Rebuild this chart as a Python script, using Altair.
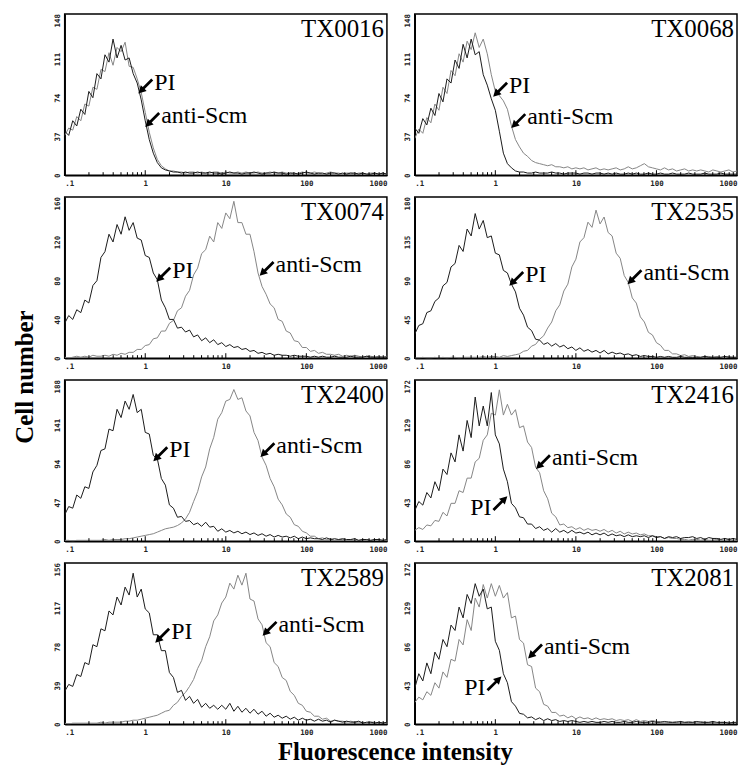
import altair as alt
import pandas as pd

# ---------------- data ----------------
PANELS = ["TX0016", "TX0068", "TX0074", "TX2535", "TX2400", "TX2416", "TX2589", "TX2081"]

Y_TICKS = {
    "TX0016": [0, 37, 74, 111, 148],
    "TX0068": [0, 37, 74, 111, 148],
    "TX0074": [0, 40, 80, 120, 160],
    "TX2535": [0, 45, 90, 135, 180],
    "TX2400": [0, 47, 94, 141, 188],
    "TX2416": [0, 43, 86, 129, 172],
    "TX2589": [0, 39, 78, 117, 156],
    "TX2081": [0, 43, 86, 129, 172],
}

X_TICKS = [0.1, 1, 10, 100, 1000]
X_LABELS = [".1", "1", "10", "100", "1000"]
MINOR_TICKS = [0.2, 0.3, 0.4, 0.5, 0.6, 0.7, 0.8, 0.9,
               2, 3, 4, 5, 6, 7, 8, 9,
               20, 30, 40, 50, 60, 70, 80, 90,
               200, 300, 400, 500, 600, 700, 800, 900]
MAJOR_TICKS = [1, 10, 100]

# histogram bins: log10 positions from -1 in steps of 0.05 decade
LOG_START = -1.0
LOG_STEP = 0.05

PI_TX0016 = [42,38,52,47,63,58,80,74,97,92, 115,108,130,112,124,110,112,97,88,72, 52,34,21,12,7,5,4,3,3,2, 3,2,2,3,2,2,3,2,2,1, 2,3,2,2,1,2,2,3,2,1, 2,2,3,2,2,1,2,2,1,2, 3,2,1,2,2,1,2,2,1,2, 1,2,2,1,2,1,1,2,1,2, 1]
SCM_TX0016 = [38,45,43,56,52,68,66,84,82,101, 99,117,105,122,118,127,104,103,92,79, 60,41,26,15,9,6,4,4,3,3, 2,3,3,2,3,2,2,3,3,2, 3,2,2,3,2,3,2,2,3,2, 2,3,2,2,3,2,2,1,2,3, 2,2,3,2,1,2,3,2,2,1, 2,2,1,2,2,1,2,2,1,2, 1]

PI_TX0068 = [45,40,54,48,64,57,78,70,92,88, 110,102,125,112,130,115,118,96,86,73, 62,42,21,11,7,4,3,3,2,2, 3,2,2,2,3,2,2,1,2,2, 2,1,2,2,1,2,2,1,2,1, 2,1,1,2,1,2,1,1,2,1, 1,2,1,1,2,1,1,1,2,1, 1,1,2,1,1,1,2,1,1,1, 1]
SCM_TX0068 = [35,44,40,55,50,68,62,84,78,100, 95,116,108,128,120,136,122,130,116,96, 80,76,71,63,47,34,27,21,18,14, 12,11,10,9,10,8,8,7,8,6, 7,6,7,5,6,7,5,6,5,6, 7,5,6,8,6,7,9,11,8,7, 6,5,7,5,6,4,5,6,4,5, 4,5,4,3,5,4,3,4,5,3, 4]

PI_TX0074 = [36,44,40,50,47,60,57,75,80,104, 110,128,120,138,128,146,132,140,124,122, 106,104,88,81,60,52,40,40,31,32, 27,29,22,24,18,21,16,19,14,16, 12,14,11,12,9,10,7,8,5,6, 4,5,3,4,3,3,2,3,2,2, 2,1,2,1,2,1,1,2,1,1, 1,2,1,1,1,2,1,1,1,1, 1]
SCM_TX0074 = [1,0,1,2,1,2,1,3,2,2, 3,2,4,3,5,4,6,6,9,9, 13,14,20,21,28,28,36,39,49,52, 64,70,86,93,108,112,126,120,140,134, 150,144,162,140,140,128,128,110,88,74, 66,56,52,40,38,28,26,18,17,11, 11,7,8,5,6,4,4,3,4,2, 3,2,3,2,1,2,2,1,2,1, 2]

PI_TX2535 = [28,38,40,53,55,66,70,84,88,106, 110,131,124,150,142,168,150,160,140,142, 122,120,102,99,86,77,58,50,36,32, 22,21,16,18,14,17,13,15,11,13, 9,12,8,10,7,9,6,9,5,7, 5,6,4,5,3,4,2,3,2,2, 1,2,1,2,1,1,2,1,1,1, 1,1,2,1,1,1,1,2,1,1, 1]
SCM_TX2535 = [0,0,1,0,0,1,0,1,0,1, 1,0,1,1,1,1,1,2,1,2, 2,1,3,2,3,4,5,8,9,14, 16,22,26,35,42,55,62,78,86,106, 115,135,140,158,152,172,156,164,146,142, 122,116,96,88,70,64,48,42,30,27, 18,15,9,9,5,5,3,4,2,3, 2,1,2,2,1,2,1,1,2,1, 1]

PI_TX2400 = [32,42,40,56,52,66,64,84,92,110, 112,136,134,160,150,170,160,178,156,160, 132,130,104,100,76,68,44,40,29,30, 24,25,20,22,18,23,17,18,12,15, 11,13,10,12,9,11,8,10,7,9, 6,8,5,7,5,6,4,6,3,5, 3,4,3,3,2,4,2,3,2,3, 2,2,3,1,2,2,1,2,2,1, 2]
SCM_TX2400 = [1,1,0,1,1,1,1,1,1,1, 2,1,2,2,2,3,3,4,5,6, 7,8,9,11,13,15,16,17,19,22, 27,35,48,60,78,90,112,126,148,156, 170,172,184,172,174,158,152,132,122,102, 92,76,66,51,44,33,29,20,18,12, 10,6,6,3,4,2,3,1,2,2, 1,2,1,1,2,1,1,2,1,1, 1]

PI_TX2416 = [34,44,40,54,48,66,56,80,74,98, 88,118,100,134,115,160,128,150,128,165, 118,108,80,66,42,37,27,26,19,19, 14,16,12,14,10,14,10,12,9,12, 9,10,8,10,7,9,7,9,6,8, 6,7,5,7,5,6,5,6,4,6, 4,5,3,5,4,5,3,4,4,5, 3,4,2,4,3,3,2,3,2,3, 2]
SCM_TX2416 = [12,15,13,18,17,23,22,32,28,42, 42,56,54,70,70,88,92,112,118,142, 140,168,140,152,140,146,126,128,110,104, 82,76,56,47,31,27,18,19,15,16, 13,15,12,14,12,13,11,13,10,12, 9,11,8,10,8,9,7,8,6,6, 5,5,3,4,3,3,2,2,1,2, 2,1,2,1,1,2,1,1,2,1, 1]

PI_TX2589 = [33,40,38,50,48,62,60,80,78,96, 94,114,110,128,120,138,130,152,128,136, 116,112,90,90,74,74,52,47,32,34, 24,28,21,25,17,21,16,19,15,19, 15,21,13,18,12,16,11,15,10,13, 8,11,7,9,6,8,5,7,4,6, 4,5,3,5,3,4,2,4,3,2, 3,2,2,3,1,2,2,1,2,1, 2]
SCM_TX2589 = [1,0,1,1,1,1,1,1,1,2, 1,2,2,2,2,3,3,4,4,5, 6,7,8,9,11,13,14,19,22,28, 32,38,45,56,64,78,88,104,110,122, 128,142,136,150,140,152,126,124,106,100, 82,78,62,58,47,44,33,29,21,19, 13,12,8,8,5,6,3,4,3,3, 2,3,2,2,2,1,2,2,1,2, 1]

PI_TX2081 = [40,56,48,68,56,80,72,94,86,110, 104,130,118,144,134,156,142,150,128,130, 92,82,56,46,25,20,12,11,7,8, 5,7,4,6,4,5,3,4,3,4, 3,2,3,2,3,2,2,3,2,3, 2,2,3,2,2,3,2,2,2,3, 2,2,3,2,2,2,3,2,2,2, 3,2,2,2,3,2,2,2,1,2, 2]
SCM_TX2081 = [24,30,27,36,32,46,40,58,52,72, 70,94,88,116,104,140,130,155,140,156, 142,154,140,146,118,120,94,90,66,64, 40,36,22,20,13,13,9,10,7,9, 6,8,6,7,5,7,5,6,5,6, 4,5,4,5,3,5,3,4,3,4, 3,3,2,3,2,3,2,2,3,2, 2,3,2,2,2,1,2,2,2,1, 2]

PI = {"TX0016": PI_TX0016, "TX0068": PI_TX0068, "TX0074": PI_TX0074, "TX2535": PI_TX2535,
      "TX2400": PI_TX2400, "TX2416": PI_TX2416, "TX2589": PI_TX2589, "TX2081": PI_TX2081}
SCM = {"TX0016": SCM_TX0016, "TX0068": SCM_TX0068, "TX0074": SCM_TX0074, "TX2535": SCM_TX2535,
       "TX2400": SCM_TX2400, "TX2416": SCM_TX2416, "TX2589": SCM_TX2589, "TX2081": SCM_TX2081}

# arrow annotations: arrow tip in data coordinates
ANN_PANEL = ["TX0016", "TX0016", "TX0068", "TX0068", "TX0074", "TX0074", "TX2535", "TX2535",
             "TX2400", "TX2400", "TX2416", "TX2416", "TX2589", "TX2589", "TX2081", "TX2081"]
ANN_TEXT = ["PI", "anti-Scm"] * 8
ANN_X = [0.82, 1.0, 0.94, 1.58, 1.37, 26.3, 1.49, 43.7, 1.26, 26.9, 1.41, 3.2, 1.33, 28.6, 1.19, 2.55]
ANN_Y = [78, 46, 75, 45, 79, 85, 84, 86, 97, 102, 50, 80, 82, 89, 53, 73]
ANN_DIR = ["dl", "dl", "dl", "dl", "dl", "dl", "dl", "dl", "dl", "dl", "ur", "dl", "dl", "dl", "ur", "dl"]

# ---------------- styling ----------------
W, H = 324, 162
PI_COLOR = "#1a1a1a"
SCM_COLOR = "#858585"
SERIF = "Liberation Serif"
ARROW_SIZE = 196
HALF = 7
PATH_DL = "M -1 1 L -0.64 -0.2 L -0.36 0.08 L 0.86 -1.14 L 1.14 -0.86 L -0.08 0.36 L 0.2 0.64 Z"
PATH_UR = "M 1 -1 L 0.64 0.2 L 0.36 -0.08 L -0.86 1.14 L -1.14 0.86 L 0.08 -0.36 L -0.2 -0.64 Z"

# label expression built from the tick label list
expr = "'" + X_LABELS[-1] + "'"
for t, lab in reversed(list(zip(X_TICKS[:-1], X_LABELS[:-1]))):
    expr = f"datum.value < {t * 3.1623} ? '{lab}' : ({expr})"

xscale = alt.Scale(type="log", domain=[X_TICKS[0], X_TICKS[-1]])


def series_df(vals):
    return pd.DataFrame({
        "x": [10 ** (LOG_START + LOG_STEP * i) for i in range(len(vals))],
        "count": vals,
    })


def panel(name):
    ticks = Y_TICKS[name]
    ymax = ticks[-1] * 1.04
    X = alt.X("x:Q", scale=xscale,
              axis=alt.Axis(values=X_TICKS, labelExpr=expr, ticks=False, grid=False, title=None,
                            labelFlush=True, labelPadding=4))
    Y = alt.Y("count:Q", scale=alt.Scale(domain=[0, ymax], nice=False),
              axis=alt.Axis(values=ticks, labelAngle=-90, ticks=False, grid=False, title=None,
                            labelPadding=3))

    scm = alt.Chart(series_df(SCM[name])).mark_line(
        interpolate="linear", strokeWidth=1, color=SCM_COLOR, clip=True).encode(x=X, y=Y)
    pi = alt.Chart(series_df(PI[name])).mark_line(
        interpolate="linear", strokeWidth=1, color=PI_COLOR, clip=True).encode(x=X, y=Y)

    minor = alt.Chart(pd.DataFrame({"x": MINOR_TICKS})).mark_rule(
        color="black", strokeWidth=1).encode(x=X, y=alt.value(H), y2=alt.value(H - 3))
    major = alt.Chart(pd.DataFrame({"x": MAJOR_TICKS})).mark_rule(
        color="black", strokeWidth=1).encode(x=X, y=alt.value(H), y2=alt.value(H - 5))

    title = alt.Chart(pd.DataFrame({"t": [name]})).mark_text(
        align="right", baseline="alphabetic", font=SERIF, fontSize=25, color="black"
    ).encode(x=alt.value(W - 3), y=alt.value(23), text="t:N")

    layers = [scm, pi, minor, major, title]
    for p, txt, ax, ay, d in zip(ANN_PANEL, ANN_TEXT, ANN_X, ANN_Y, ANN_DIR):
        if p != name:
            continue
        adf = pd.DataFrame({"x": [ax], "count": [ay], "label": [txt]})
        if d == "dl":
            arrow = alt.Chart(adf).mark_point(
                shape=PATH_DL, size=ARROW_SIZE, filled=True, color="black", opacity=1,
                strokeWidth=0, xOffset=HALF, yOffset=-HALF).encode(x=X, y=Y)
            text = alt.Chart(adf).mark_text(
                align="left", baseline="middle", dx=16, dy=-11, font=SERIF, fontSize=24,
                color="black").encode(x=X, y=Y, text="label:N")
        else:
            arrow = alt.Chart(adf).mark_point(
                shape=PATH_UR, size=ARROW_SIZE, filled=True, color="black", opacity=1,
                strokeWidth=0, xOffset=-HALF, yOffset=HALF).encode(x=X, y=Y)
            text = alt.Chart(adf).mark_text(
                align="right", baseline="middle", dx=-16, dy=12, font=SERIF, fontSize=24,
                color="black").encode(x=X, y=Y, text="label:N")
        layers += [arrow, text]
    return alt.layer(*layers).properties(width=W, height=H)


grid = alt.concat(*[panel(n) for n in PANELS], columns=2,
                  spacing={"row": 22, "column": 28}, bounds="flush").properties(
    title=alt.TitleParams("Fluorescence intensity", orient="bottom", anchor="middle",
                          font=SERIF, fontSize=25, fontWeight="bold", color="black", offset=4))

chart = alt.hconcat(grid).properties(
    title=alt.TitleParams("Cell number", orient="left", anchor="middle", dx=12,
                          font=SERIF, fontSize=25, fontWeight="bold", color="black", offset=15),
    padding={"left": 5, "top": 2, "right": 0, "bottom": 0},
).configure_view(
    stroke="black", strokeWidth=1.5
).configure_axis(
    labelFont="DejaVu Sans Mono", labelFontWeight="bold", labelFontSize=7.5, labelColor="#222",
    domainColor="black", domainWidth=1.5
)

chart.save("out.html", embed_options={"renderer": "svg", "actions": False})
